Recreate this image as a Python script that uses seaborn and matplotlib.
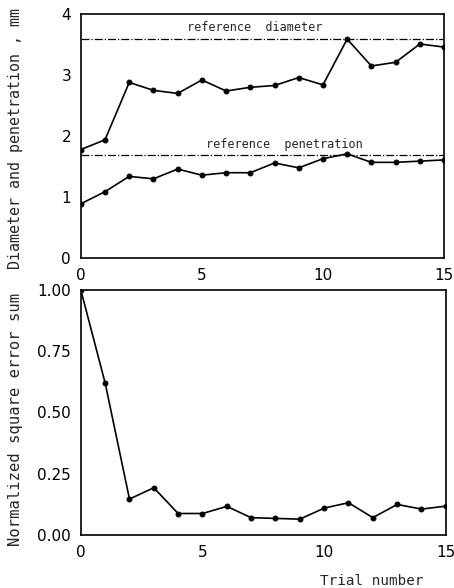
import matplotlib
matplotlib.use("Agg")
import matplotlib.pyplot as plt
import seaborn as sns
import pandas as pd

trials = list(range(16))
diameter = [1.78, 1.94, 2.88, 2.75, 2.70, 2.92, 2.74, 2.80, 2.83, 2.96, 2.84, 3.59, 3.15, 3.21, 3.51, 3.46]
penetration = [0.89, 1.09, 1.34, 1.30, 1.46, 1.36, 1.40, 1.40, 1.56, 1.48, 1.63, 1.71, 1.57, 1.57, 1.59, 1.61]
error_sum = [1.00, 0.62, 0.147, 0.193, 0.088, 0.088, 0.117, 0.071, 0.068, 0.065, 0.110, 0.132, 0.071, 0.125, 0.106, 0.118]
ref_diameter = 3.6
ref_penetration = 1.69

sns.set_style("white")
plt.rcParams['font.family'] = ['DejaVu Sans Mono', 'DejaVu Sans']

fig = plt.figure(figsize=(4.54, 5.88), dpi=100)
ax1 = fig.add_axes([0.178, 0.561, 0.800, 0.415])
ax2 = fig.add_axes([0.178, 0.090, 0.804, 0.417])

df = pd.DataFrame({"trial": trials, "diameter": diameter,
                   "penetration": penetration, "error": error_sum})

kw = dict(color="black", linewidth=1.2, marker="o", markersize=3.5,
          markeredgecolor="black")
sns.lineplot(data=df, x="trial", y="diameter", ax=ax1, **kw)
sns.lineplot(data=df, x="trial", y="penetration", ax=ax1, **kw)
sns.lineplot(data=df, x="trial", y="error", ax=ax2, **kw)

ax1.axhline(ref_diameter, color="black", linewidth=0.9, linestyle="-.")
ax1.axhline(ref_penetration, color="black", linewidth=0.9, linestyle="-.")
ax1.text(7.2, ref_diameter + 0.07, "reference  diameter", ha="center",
         va="bottom", fontsize=8.5)
ax1.text(8.4, ref_penetration + 0.07, "reference  penetration", ha="center",
         va="bottom", fontsize=8.5)

for ax in (ax1, ax2):
    ax.set_xlim(0, 15)
    ax.set_xticks([0, 5, 10, 15])
    for s in ax.spines.values():
        s.set_color("black")
        s.set_linewidth(1.2)
    ax.tick_params(direction="in", length=9, width=1.2, colors="black",
                   labelsize=11, pad=7)
    ax.set_xlabel("")

ax1.set_ylim(0, 4)
ax1.set_yticks([0, 1, 2, 3, 4])
ax1.set_yticklabels(["0", "1", "2", "3", "4"], family=['DejaVu Sans'])
ax1.set_xticklabels(["0", "5", "10", "15"], family=['DejaVu Sans'])
ax1.set_ylabel("Diameter and penetration , mm", fontsize=10.8)
ax1.yaxis.set_label_coords(-0.158, 0.49)

ax2.set_ylim(0, 1.0)
ax2.set_yticks([0, 0.25, 0.5, 0.75, 1.0])
ax2.set_yticklabels(["0.00", "0.25", "0.50", "0.75", "1.00"], family=['DejaVu Sans'])
ax2.set_xticklabels(["0", "5", "10", "15"], family=['DejaVu Sans'])
ax2.set_ylabel("Normalized square error sum", fontsize=11.2)
ax2.yaxis.set_label_coords(-0.158, 0.47)
ax2.text(0.94, -0.16, "Trial number", transform=ax2.transAxes,
         ha="right", va="top", fontsize=10.3)

fig.savefig("out.png", dpi=100)
